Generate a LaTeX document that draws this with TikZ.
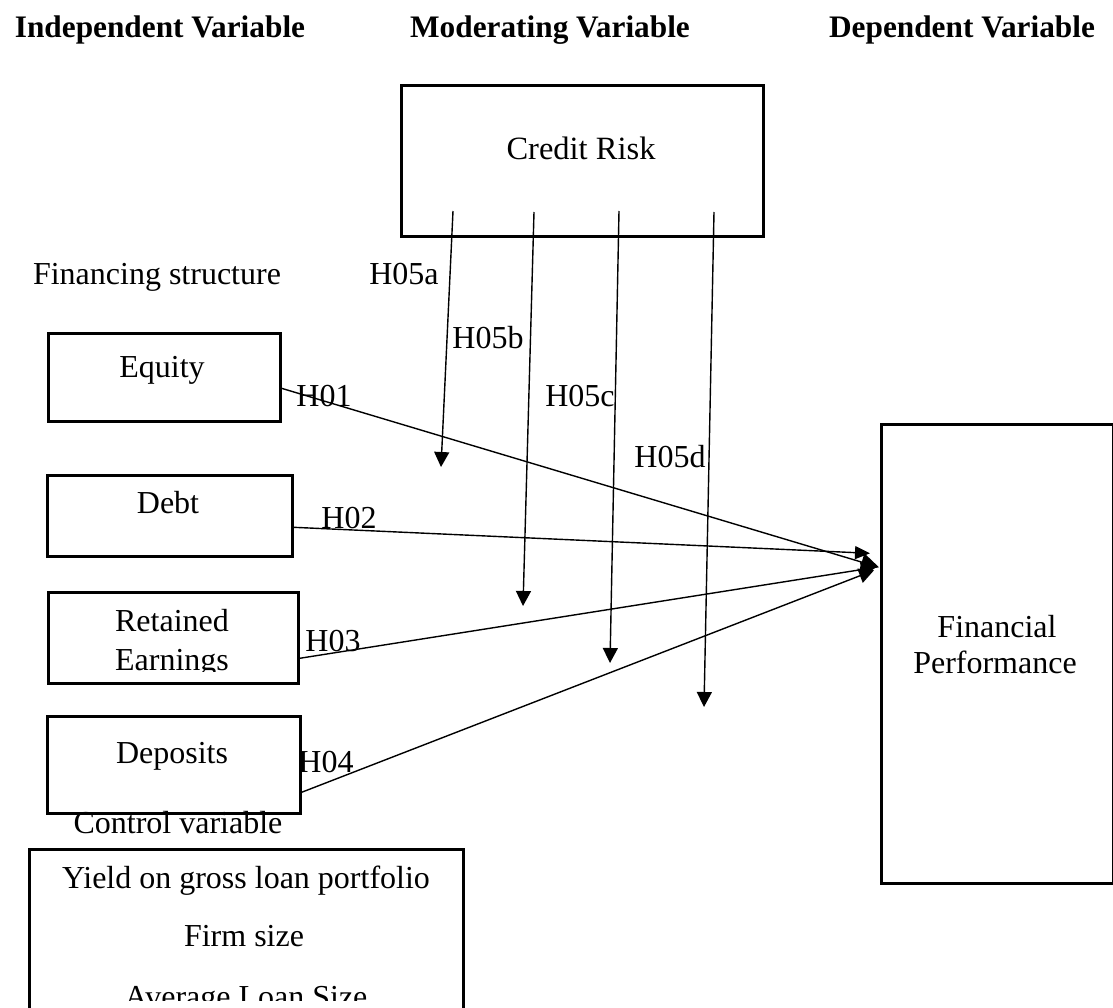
\documentclass[tikz,border=0pt]{standalone}
\usepackage{fontspec}
\setmainfont{Liberation Serif}
\usetikzlibrary{arrows.meta}
\begin{document}
\begin{tikzpicture}[x=1pt,y=-1pt,
  box/.style={draw, line width=2.6pt, inner sep=0pt, anchor=north west},
  txt/.style={font=\fontsize{32}{36}\selectfont, anchor=base, inner sep=0pt},
  head/.style={font=\fontsize{31.3}{36}\selectfont\bfseries, anchor=base, inner sep=0pt},
  arr/.style={line width=1.4pt, -{Triangle[length=15pt,width=15pt]}},
]
\useasboundingbox (0,0) rectangle (1113,1007);

% headings
\node[head] (h1) at (160,37) {Independent Variable};
\node[head] (h2) at (550,37) {Moderating Variable};
\node[head] (h3) at (962,37) {Dependent Variable};

% boxes
\node[box, minimum width=362pt, minimum height=151pt] (cr) at (400,84) {};
\node[box, minimum width=232pt, minimum height=88pt] (eq) at (47,332) {};
\node[box, minimum width=245pt, minimum height=81pt] (de) at (46,474) {};
\node[box, minimum width=250pt, minimum height=91pt] (re) at (47,591) {};
\node[box, minimum width=253pt, minimum height=97pt] (dp) at (46,715) {};
\node[box, minimum width=232pt, minimum height=459pt] (fp) at (880,423) {};
\begin{scope}
\clip (0,0) rectangle (1113,1007);
\node[box, minimum width=434pt, minimum height=200pt] (cv) at (28,848) {};
\end{scope}

% texts
\node[txt, font=\fontsize{32.5}{38}\selectfont] (crt) at (581,159) {Credit Risk};
\node[txt] (fs) at (157,284) {Financing structure};
\node[txt] (eqt) at (162,377) {Equity};
\node[txt] (det) at (168,513) {Debt};
\node[txt] (ret1) at (172,631) {Retained};
\begin{scope}
\clip (0,0) rectangle (1113,671);
\node[txt] (ret2) at (172,670) {Earnings};
\end{scope}
\node[txt] (dpt) at (172,763) {Deposits};
\node[txt] (cvl) at (178,833) {Control variable};
\node[txt] (cv1) at (246,888) {Yield on gross loan portfolio};
\node[txt] (cv2) at (244,946) {Firm size};
\begin{scope}
\clip (0,0) rectangle (1113,1000);
\node[txt] (cv3) at (246,1007) {Average Loan Size};
\end{scope}
\node[txt] (fpt1) at (997,637) {Financial};
\node[txt] (fpt2) at (995,673) {Performance};

% hypothesis labels
\node[txt] (l5a) at (404,284) {H05a};
\node[txt] (l5b) at (488,348) {H05b};
\node[txt] (l5c) at (580,406) {H05c};
\node[txt] (l5d) at (670,467) {H05d};
\node[txt] (l1) at (324,406) {H01};
\node[txt] (l2) at (349,528) {H02};
\node[txt] (l3) at (333,651) {H03};
\node[txt] (l4) at (326,772) {H04};

% moderating arrows
\coordinate (m1s) at (453,211);
\coordinate (m2s) at (534,212);
\coordinate (m3s) at (619,211);
\coordinate (m4s) at (714,212);
\coordinate (m1e) at (441,467);
\coordinate (m2e) at (523,606);
\coordinate (m3e) at (610,663);
\coordinate (m4e) at (704,707);
\draw[arr] (m1s) -- (m1e);
\draw[arr] (m2s) -- (m2e);
\draw[arr] (m3s) -- (m3e);
\draw[arr] (m4s) -- (m4e);

% main arrows
\draw[arr, -{Triangle[length=18pt,width=18pt]}] ([yshift=-11pt]eq.east) -- ([shift={(-1pt,86.5pt)}]fp.west);
\draw[arr, -{Triangle[length=15pt,width=13pt]}] ([yshift=-11.5pt]de.east) -- ([shift={(-10pt,100.5pt)}]fp.west);
\draw[arr] ([yshift=-20.5pt]re.east) -- ([shift={(-4pt,86.5pt)}]fp.west);
\draw[arr] ([yshift=-27.5pt]dp.east) -- ([shift={(-6pt,83.5pt)}]fp.west);
\end{tikzpicture}
\end{document}
